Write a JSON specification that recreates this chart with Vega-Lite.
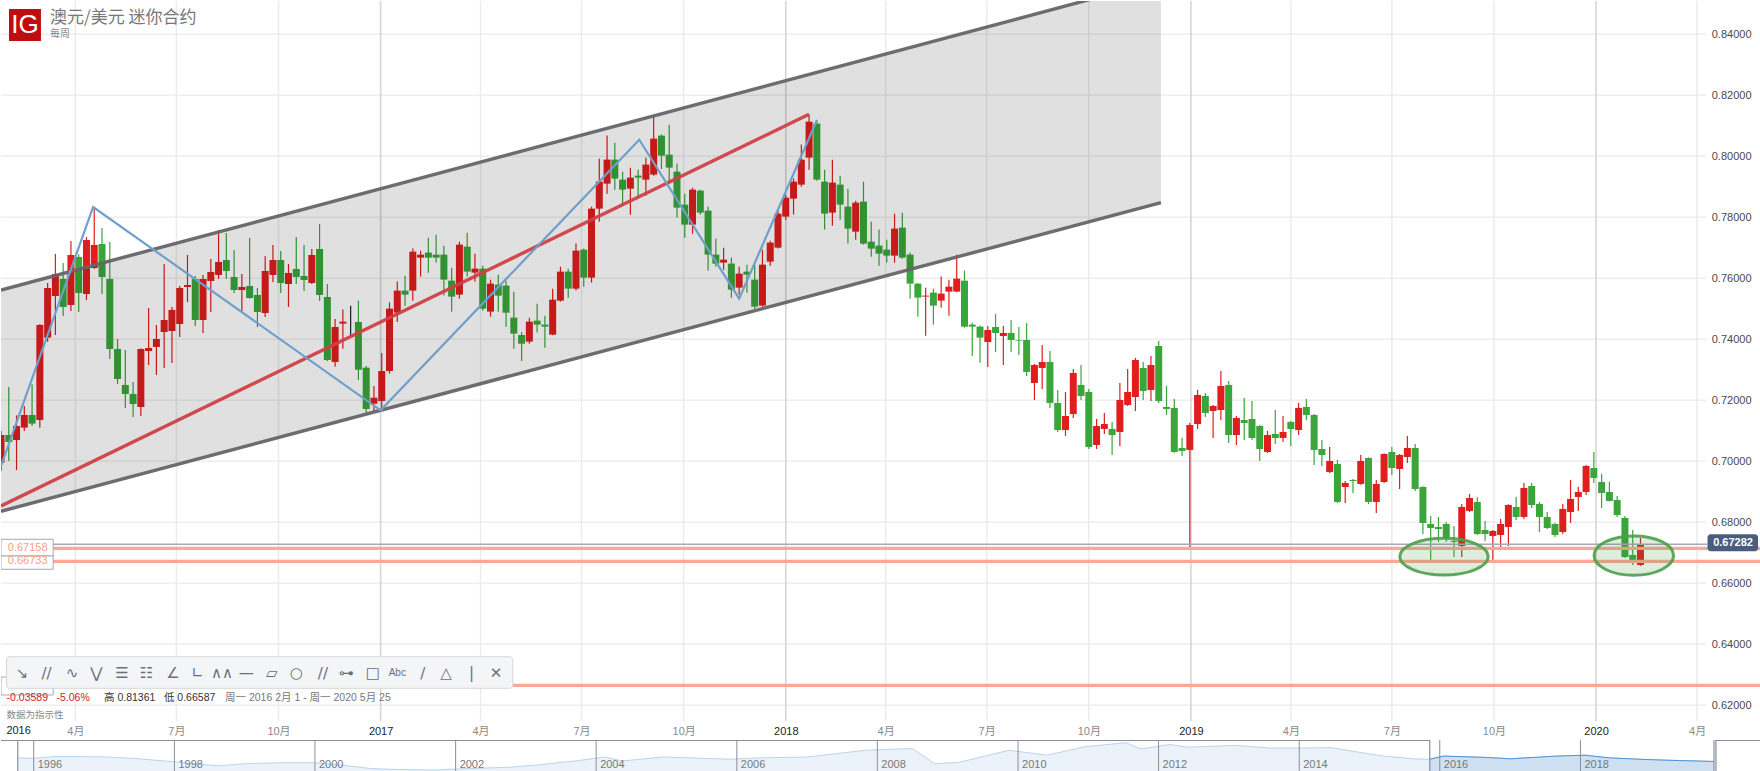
{"$schema":"https://vega.github.io/schema/vega-lite/v6.json","padding":0,"background":"#ffffff","spacing":0,"bounds":"flush",
"config":{"view":{"stroke":null},"concat":{"spacing":0}},
"datasets":{
"candles":[
{"d":"2016-01-25","o":0.69954,"h":0.7099,"l":0.6968,"c":0.70862},
{"d":"2016-02-01","o":0.70862,"h":0.72436,"l":0.7001,"c":0.70633},
{"d":"2016-02-08","o":0.70698,"h":0.71508,"l":0.69715,"c":0.71157},
{"d":"2016-02-15","o":0.71104,"h":0.71814,"l":0.70995,"c":0.71519},
{"d":"2016-02-22","o":0.71519,"h":0.72525,"l":0.71158,"c":0.71235},
{"d":"2016-02-29","o":0.71355,"h":0.745,"l":0.71104,"c":0.7447},
{"d":"2016-03-07","o":0.74055,"h":0.75847,"l":0.73923,"c":0.75683},
{"d":"2016-03-14","o":0.75421,"h":0.76798,"l":0.74142,"c":0.76142},
{"d":"2016-03-21","o":0.75978,"h":0.76503,"l":0.74765,"c":0.7506},
{"d":"2016-03-28","o":0.75126,"h":0.77224,"l":0.74929,"c":0.76765},
{"d":"2016-04-04","o":0.767,"h":0.76787,"l":0.74896,"c":0.75519},
{"d":"2016-04-11","o":0.75486,"h":0.77355,"l":0.7529,"c":0.77257},
{"d":"2016-04-18","o":0.76339,"h":0.78338,"l":0.76306,"c":0.77093},
{"d":"2016-04-25","o":0.77126,"h":0.7765,"l":0.75486,"c":0.76044},
{"d":"2016-05-02","o":0.75978,"h":0.77191,"l":0.73355,"c":0.73683},
{"d":"2016-05-09","o":0.73683,"h":0.74011,"l":0.72535,"c":0.72699},
{"d":"2016-05-16","o":0.72503,"h":0.7365,"l":0.71749,"c":0.72208},
{"d":"2016-05-23","o":0.72208,"h":0.72601,"l":0.71454,"c":0.7188},
{"d":"2016-05-30","o":0.71781,"h":0.737,"l":0.71486,"c":0.73683},
{"d":"2016-06-06","o":0.73617,"h":0.75027,"l":0.73158,"c":0.73716},
{"d":"2016-06-13","o":0.73749,"h":0.7447,"l":0.72831,"c":0.74011},
{"d":"2016-06-20","o":0.7424,"h":0.7647,"l":0.7306,"c":0.74634},
{"d":"2016-06-27","o":0.74273,"h":0.7506,"l":0.73224,"c":0.74962},
{"d":"2016-07-04","o":0.74503,"h":0.75749,"l":0.74076,"c":0.75683},
{"d":"2016-07-11","o":0.75716,"h":0.76765,"l":0.75224,"c":0.75781},
{"d":"2016-07-18","o":0.75978,"h":0.76077,"l":0.74437,"c":0.74634},
{"d":"2016-07-25","o":0.74634,"h":0.76109,"l":0.74208,"c":0.75978},
{"d":"2016-08-01","o":0.75913,"h":0.76634,"l":0.74896,"c":0.76208},
{"d":"2016-08-08","o":0.76109,"h":0.77585,"l":0.75978,"c":0.76536},
{"d":"2016-08-15","o":0.76601,"h":0.77486,"l":0.75978,"c":0.7624},
{"d":"2016-08-22","o":0.76044,"h":0.76929,"l":0.75519,"c":0.75617},
{"d":"2016-08-29","o":0.75617,"h":0.76142,"l":0.74929,"c":0.75716},
{"d":"2016-09-05","o":0.75749,"h":0.77322,"l":0.7533,"c":0.75355},
{"d":"2016-09-12","o":0.75454,"h":0.75683,"l":0.74404,"c":0.74896},
{"d":"2016-09-19","o":0.74863,"h":0.76732,"l":0.74732,"c":0.7624},
{"d":"2016-09-26","o":0.76109,"h":0.77093,"l":0.7588,"c":0.76601},
{"d":"2016-10-03","o":0.76601,"h":0.76896,"l":0.75519,"c":0.75847},
{"d":"2016-10-10","o":0.75814,"h":0.7647,"l":0.7506,"c":0.76175},
{"d":"2016-10-17","o":0.76306,"h":0.77355,"l":0.75814,"c":0.76044},
{"d":"2016-10-24","o":0.76077,"h":0.77093,"l":0.75585,"c":0.75945},
{"d":"2016-10-31","o":0.75847,"h":0.76962,"l":0.75814,"c":0.76765},
{"d":"2016-11-07","o":0.76962,"h":0.77781,"l":0.75257,"c":0.75454},
{"d":"2016-11-14","o":0.75388,"h":0.75814,"l":0.7329,"c":0.73322},
{"d":"2016-11-21","o":0.73256,"h":0.74667,"l":0.73102,"c":0.74403},
{"d":"2016-11-28","o":0.74514,"h":0.74973,"l":0.73694,"c":0.74579},
{"d":"2016-12-05","o":0.7447,"h":0.75104,"l":0.74108,"c":0.7447},
{"d":"2016-12-12","o":0.74567,"h":0.75268,"l":0.72666,"c":0.73003},
{"d":"2016-12-19","o":0.73069,"h":0.73125,"l":0.71593,"c":0.71715},
{"d":"2016-12-26","o":0.71889,"h":0.72469,"l":0.71626,"c":0.72085},
{"d":"2017-01-02","o":0.71977,"h":0.73551,"l":0.71672,"c":0.72961},
{"d":"2017-01-09","o":0.72961,"h":0.75213,"l":0.72872,"c":0.75005},
{"d":"2017-01-16","o":0.74874,"h":0.75891,"l":0.74579,"c":0.75596},
{"d":"2017-01-23","o":0.75596,"h":0.76087,"l":0.75104,"c":0.75464},
{"d":"2017-01-30","o":0.75596,"h":0.76973,"l":0.75268,"c":0.76874},
{"d":"2017-02-06","o":0.76678,"h":0.76907,"l":0.76055,"c":0.76776},
{"d":"2017-02-13","o":0.76842,"h":0.77333,"l":0.76186,"c":0.76678},
{"d":"2017-02-20","o":0.76776,"h":0.77432,"l":0.76514,"c":0.76678},
{"d":"2017-02-27","o":0.76776,"h":0.77071,"l":0.75432,"c":0.75956},
{"d":"2017-03-06","o":0.75923,"h":0.7635,"l":0.74907,"c":0.75399},
{"d":"2017-03-13","o":0.75464,"h":0.77202,"l":0.75333,"c":0.77104},
{"d":"2017-03-20","o":0.77038,"h":0.77497,"l":0.76055,"c":0.76219},
{"d":"2017-03-27","o":0.76186,"h":0.76809,"l":0.75891,"c":0.76317},
{"d":"2017-04-03","o":0.76317,"h":0.76415,"l":0.7494,"c":0.75005},
{"d":"2017-04-10","o":0.74907,"h":0.75956,"l":0.74743,"c":0.75825},
{"d":"2017-04-17","o":0.75792,"h":0.7612,"l":0.74907,"c":0.75432},
{"d":"2017-04-24","o":0.7576,"h":0.75923,"l":0.74415,"c":0.74874},
{"d":"2017-05-01","o":0.7471,"h":0.75563,"l":0.73694,"c":0.74186},
{"d":"2017-05-08","o":0.74141,"h":0.74239,"l":0.73289,"c":0.73856},
{"d":"2017-05-15","o":0.73923,"h":0.7471,"l":0.73858,"c":0.74579},
{"d":"2017-05-22","o":0.74612,"h":0.75169,"l":0.74219,"c":0.74481},
{"d":"2017-05-29","o":0.74481,"h":0.74776,"l":0.73727,"c":0.74415},
{"d":"2017-06-05","o":0.74153,"h":0.75661,"l":0.7413,"c":0.753},
{"d":"2017-06-12","o":0.75268,"h":0.76382,"l":0.75235,"c":0.76219},
{"d":"2017-06-19","o":0.76219,"h":0.76317,"l":0.75366,"c":0.75661},
{"d":"2017-06-26","o":0.75661,"h":0.77137,"l":0.75596,"c":0.76907},
{"d":"2017-07-03","o":0.7694,"h":0.76973,"l":0.75727,"c":0.76022},
{"d":"2017-07-10","o":0.76022,"h":0.7835,"l":0.75858,"c":0.78284},
{"d":"2017-07-17","o":0.78284,"h":0.79923,"l":0.77858,"c":0.79169},
{"d":"2017-07-24","o":0.79104,"h":0.80678,"l":0.78776,"c":0.79891},
{"d":"2017-07-31","o":0.79891,"h":0.80448,"l":0.78907,"c":0.79268},
{"d":"2017-08-07","o":0.79235,"h":0.79497,"l":0.78415,"c":0.78907},
{"d":"2017-08-14","o":0.7894,"h":0.79628,"l":0.78087,"c":0.79301},
{"d":"2017-08-21","o":0.79366,"h":0.79563,"l":0.78678,"c":0.79301},
{"d":"2017-08-28","o":0.79235,"h":0.79956,"l":0.7871,"c":0.79727},
{"d":"2017-09-04","o":0.79399,"h":0.813,"l":0.7936,"c":0.80579},
{"d":"2017-09-11","o":0.80678,"h":0.8072,"l":0.79584,"c":0.80022},
{"d":"2017-09-18","o":0.80055,"h":0.81038,"l":0.79093,"c":0.79628},
{"d":"2017-09-25","o":0.79497,"h":0.7976,"l":0.77989,"c":0.78317},
{"d":"2017-10-02","o":0.78415,"h":0.78776,"l":0.77333,"c":0.7776},
{"d":"2017-10-09","o":0.7776,"h":0.78973,"l":0.77464,"c":0.78907},
{"d":"2017-10-16","o":0.78874,"h":0.78907,"l":0.78087,"c":0.78153},
{"d":"2017-10-23","o":0.78219,"h":0.7835,"l":0.76251,"c":0.76776},
{"d":"2017-10-30","o":0.76776,"h":0.773,"l":0.76382,"c":0.76481},
{"d":"2017-11-06","o":0.76514,"h":0.77005,"l":0.76284,"c":0.76612},
{"d":"2017-11-13","o":0.76481,"h":0.76678,"l":0.75366,"c":0.75628},
{"d":"2017-11-20","o":0.75694,"h":0.76382,"l":0.75464,"c":0.76153},
{"d":"2017-11-27","o":0.76219,"h":0.76448,"l":0.7553,"c":0.7612},
{"d":"2017-12-04","o":0.75956,"h":0.76514,"l":0.75005,"c":0.75071},
{"d":"2017-12-11","o":0.75104,"h":0.7694,"l":0.75071,"c":0.76448},
{"d":"2017-12-18","o":0.76546,"h":0.77235,"l":0.76415,"c":0.77169},
{"d":"2017-12-25","o":0.77005,"h":0.78219,"l":0.7698,"c":0.7812},
{"d":"2018-01-01","o":0.78022,"h":0.78743,"l":0.77923,"c":0.78645},
{"d":"2018-01-08","o":0.78612,"h":0.79268,"l":0.78087,"c":0.79169},
{"d":"2018-01-15","o":0.79071,"h":0.80383,"l":0.79005,"c":0.79891},
{"d":"2018-01-22","o":0.79956,"h":0.8136,"l":0.79563,"c":0.81137},
{"d":"2018-01-29","o":0.81071,"h":0.81202,"l":0.79202,"c":0.79235},
{"d":"2018-02-05","o":0.79169,"h":0.79563,"l":0.77596,"c":0.7812},
{"d":"2018-02-12","o":0.78153,"h":0.79891,"l":0.77727,"c":0.79137},
{"d":"2018-02-19","o":0.79071,"h":0.79366,"l":0.77923,"c":0.78415},
{"d":"2018-02-26","o":0.7835,"h":0.7894,"l":0.77137,"c":0.77628},
{"d":"2018-03-05","o":0.7753,"h":0.78546,"l":0.77268,"c":0.78481},
{"d":"2018-03-12","o":0.78514,"h":0.79169,"l":0.77104,"c":0.77137},
{"d":"2018-03-19","o":0.77202,"h":0.77858,"l":0.7671,"c":0.76973},
{"d":"2018-03-26","o":0.77071,"h":0.77596,"l":0.76415,"c":0.76809},
{"d":"2018-04-02","o":0.7694,"h":0.77268,"l":0.76514,"c":0.76743},
{"d":"2018-04-09","o":0.76743,"h":0.7812,"l":0.76514,"c":0.77628},
{"d":"2018-04-16","o":0.77661,"h":0.78153,"l":0.76645,"c":0.76678},
{"d":"2018-04-23","o":0.76776,"h":0.76842,"l":0.75333,"c":0.75825},
{"d":"2018-04-30","o":0.75825,"h":0.7585,"l":0.74743,"c":0.75366},
{"d":"2018-05-07","o":0.75399,"h":0.75694,"l":0.7412,"c":0.75432},
{"d":"2018-05-14","o":0.7553,"h":0.75661,"l":0.74481,"c":0.75104},
{"d":"2018-05-21","o":0.75268,"h":0.76055,"l":0.75038,"c":0.75497},
{"d":"2018-05-28","o":0.75563,"h":0.75956,"l":0.74776,"c":0.75727},
{"d":"2018-06-04","o":0.75563,"h":0.76776,"l":0.7554,"c":0.75989},
{"d":"2018-06-11","o":0.75923,"h":0.76251,"l":0.74383,"c":0.74415},
{"d":"2018-06-18","o":0.74481,"h":0.74546,"l":0.73452,"c":0.74415},
{"d":"2018-06-25","o":0.74415,"h":0.7445,"l":0.73233,"c":0.74055},
{"d":"2018-07-02","o":0.73911,"h":0.74436,"l":0.73092,"c":0.74305},
{"d":"2018-07-09","o":0.74403,"h":0.7483,"l":0.73584,"c":0.74207},
{"d":"2018-07-16","o":0.74108,"h":0.74436,"l":0.73157,"c":0.74207},
{"d":"2018-07-23","o":0.74207,"h":0.74633,"l":0.73585,"c":0.73978},
{"d":"2018-07-30","o":0.73967,"h":0.74403,"l":0.73486,"c":0.73945},
{"d":"2018-08-06","o":0.73978,"h":0.74534,"l":0.72798,"c":0.72929},
{"d":"2018-08-13","o":0.72568,"h":0.73191,"l":0.72011,"c":0.73158},
{"d":"2018-08-20","o":0.7306,"h":0.73814,"l":0.72372,"c":0.73257},
{"d":"2018-08-27","o":0.73257,"h":0.73617,"l":0.71749,"c":0.71913},
{"d":"2018-09-03","o":0.71913,"h":0.72339,"l":0.70962,"c":0.71027},
{"d":"2018-09-10","o":0.71027,"h":0.72273,"l":0.70831,"c":0.71486},
{"d":"2018-09-17","o":0.71552,"h":0.73027,"l":0.71421,"c":0.72896},
{"d":"2018-09-24","o":0.72503,"h":0.73158,"l":0.72011,"c":0.72142},
{"d":"2018-10-01","o":0.72273,"h":0.72372,"l":0.70404,"c":0.7047},
{"d":"2018-10-08","o":0.70535,"h":0.71388,"l":0.70404,"c":0.71158},
{"d":"2018-10-15","o":0.7106,"h":0.71585,"l":0.70896,"c":0.71224},
{"d":"2018-10-22","o":0.7106,"h":0.7129,"l":0.70208,"c":0.70863},
{"d":"2018-10-29","o":0.70962,"h":0.72568,"l":0.70503,"c":0.72011},
{"d":"2018-11-05","o":0.71847,"h":0.73027,"l":0.71814,"c":0.72273},
{"d":"2018-11-12","o":0.72109,"h":0.73388,"l":0.7165,"c":0.73322},
{"d":"2018-11-19","o":0.7306,"h":0.73257,"l":0.72011,"c":0.72306},
{"d":"2018-11-26","o":0.72339,"h":0.73454,"l":0.71978,"c":0.73158},
{"d":"2018-12-03","o":0.73781,"h":0.73945,"l":0.71913,"c":0.71978},
{"d":"2018-12-10","o":0.71781,"h":0.7247,"l":0.71519,"c":0.71716},
{"d":"2018-12-17","o":0.71749,"h":0.72044,"l":0.7028,"c":0.70306},
{"d":"2018-12-24","o":0.70437,"h":0.70765,"l":0.70175,"c":0.70339},
{"d":"2018-12-31","o":0.70372,"h":0.71257,"l":0.67191,"c":0.71191},
{"d":"2019-01-07","o":0.71224,"h":0.72339,"l":0.7106,"c":0.72175},
{"d":"2019-01-14","o":0.72142,"h":0.7224,"l":0.71454,"c":0.71585},
{"d":"2019-01-21","o":0.7165,"h":0.71847,"l":0.70765,"c":0.71814},
{"d":"2019-01-28","o":0.71683,"h":0.72962,"l":0.71355,"c":0.7247},
{"d":"2019-02-04","o":0.72503,"h":0.72634,"l":0.70601,"c":0.70863},
{"d":"2019-02-11","o":0.70863,"h":0.71486,"l":0.70535,"c":0.71421},
{"d":"2019-02-18","o":0.71355,"h":0.72077,"l":0.70699,"c":0.71257},
{"d":"2019-02-25","o":0.71388,"h":0.71978,"l":0.70699,"c":0.70765},
{"d":"2019-03-04","o":0.71158,"h":0.71191,"l":0.70011,"c":0.70404},
{"d":"2019-03-11","o":0.70306,"h":0.70995,"l":0.70273,"c":0.70863},
{"d":"2019-03-18","o":0.70896,"h":0.71683,"l":0.70568,"c":0.70765},
{"d":"2019-03-25","o":0.70765,"h":0.71486,"l":0.70634,"c":0.70962},
{"d":"2019-04-01","o":0.7129,"h":0.71322,"l":0.70503,"c":0.7106},
{"d":"2019-04-08","o":0.71027,"h":0.71913,"l":0.70863,"c":0.71749},
{"d":"2019-04-15","o":0.71781,"h":0.72044,"l":0.71355,"c":0.71519},
{"d":"2019-04-22","o":0.71519,"h":0.71552,"l":0.6988,"c":0.70372},
{"d":"2019-04-29","o":0.70404,"h":0.70699,"l":0.69847,"c":0.70208},
{"d":"2019-05-06","o":0.6965,"h":0.7047,"l":0.69617,"c":0.70011},
{"d":"2019-05-13","o":0.69913,"h":0.70044,"l":0.68634,"c":0.68667},
{"d":"2019-05-20","o":0.69158,"h":0.69355,"l":0.68634,"c":0.6929},
{"d":"2019-05-27","o":0.69388,"h":0.69421,"l":0.68962,"c":0.69355},
{"d":"2019-06-03","o":0.69257,"h":0.70208,"l":0.6923,"c":0.70011},
{"d":"2019-06-10","o":0.70109,"h":0.7013,"l":0.68601,"c":0.68667},
{"d":"2019-06-17","o":0.68667,"h":0.69388,"l":0.68306,"c":0.69257},
{"d":"2019-06-24","o":0.69322,"h":0.7026,"l":0.6929,"c":0.7024},
{"d":"2019-07-01","o":0.70306,"h":0.7047,"l":0.69552,"c":0.69781},
{"d":"2019-07-08","o":0.69749,"h":0.7024,"l":0.69093,"c":0.70208},
{"d":"2019-07-15","o":0.70142,"h":0.70831,"l":0.69945,"c":0.70437},
{"d":"2019-07-22","o":0.70437,"h":0.70568,"l":0.69027,"c":0.69093},
{"d":"2019-07-29","o":0.69158,"h":0.6918,"l":0.67617,"c":0.67978},
{"d":"2019-08-05","o":0.67945,"h":0.68208,"l":0.66765,"c":0.67814},
{"d":"2019-08-12","o":0.67847,"h":0.68175,"l":0.67355,"c":0.67781},
{"d":"2019-08-19","o":0.67945,"h":0.68011,"l":0.67355,"c":0.67486},
{"d":"2019-08-26","o":0.67388,"h":0.6788,"l":0.66863,"c":0.67355},
{"d":"2019-09-02","o":0.67224,"h":0.68601,"l":0.66863,"c":0.68503},
{"d":"2019-09-09","o":0.68372,"h":0.68929,"l":0.68339,"c":0.68798},
{"d":"2019-09-16","o":0.68667,"h":0.68831,"l":0.67585,"c":0.67617},
{"d":"2019-09-23","o":0.67749,"h":0.68044,"l":0.67388,"c":0.67617},
{"d":"2019-09-30","o":0.67552,"h":0.67749,"l":0.66699,"c":0.67716},
{"d":"2019-10-07","o":0.67585,"h":0.68109,"l":0.67093,"c":0.67945},
{"d":"2019-10-14","o":0.67847,"h":0.6859,"l":0.67224,"c":0.68568},
{"d":"2019-10-21","o":0.68503,"h":0.68831,"l":0.68077,"c":0.68175},
{"d":"2019-10-28","o":0.68175,"h":0.6929,"l":0.68109,"c":0.69126},
{"d":"2019-11-04","o":0.69191,"h":0.6929,"l":0.6847,"c":0.68568},
{"d":"2019-11-11","o":0.68601,"h":0.68667,"l":0.67683,"c":0.68175},
{"d":"2019-11-18","o":0.68175,"h":0.68339,"l":0.67781,"c":0.67814},
{"d":"2019-11-25","o":0.67945,"h":0.67978,"l":0.67519,"c":0.67585},
{"d":"2019-12-02","o":0.67683,"h":0.68601,"l":0.67617,"c":0.68437},
{"d":"2019-12-09","o":0.68339,"h":0.69388,"l":0.67978,"c":0.68765},
{"d":"2019-12-16","o":0.68831,"h":0.69158,"l":0.68372,"c":0.68995},
{"d":"2019-12-23","o":0.68995,"h":0.6988,"l":0.68896,"c":0.69847},
{"d":"2019-12-30","o":0.69781,"h":0.70306,"l":0.6929,"c":0.69454},
{"d":"2020-01-06","o":0.69322,"h":0.69585,"l":0.6847,"c":0.68962},
{"d":"2020-01-13","o":0.68995,"h":0.69322,"l":0.6868,"c":0.687},
{"d":"2020-01-20","o":0.68732,"h":0.68863,"l":0.68175,"c":0.6824},
{"d":"2020-01-27","o":0.68142,"h":0.68208,"l":0.66831,"c":0.66863},
{"d":"2020-02-03","o":0.66929,"h":0.67749,"l":0.66601,"c":0.66765},
{"d":"2020-02-10","o":0.66601,"h":0.67486,"l":0.66568,"c":0.67282}
],
"channel":[{"d":"2016-01-25","top":0.75616,"bottom":0.68361},{"d":"2018-12-05","top":0.85764,"bottom":0.78479}],
"lines":[
{"s":"top","d":"2016-01-25","v":0.75616},{"s":"top","d":"2018-12-05","v":0.85764},
{"s":"bottom","d":"2016-01-25","v":0.68361},{"s":"bottom","d":"2018-12-05","v":0.78479}
],
"trend":[{"d":"2016-01-25","v":0.68534},{"d":"2018-01-22","v":0.81377}],
"zigzag":[{"d":"2016-01-25","v":0.69846},{"d":"2016-04-17","v":0.78338},{"d":"2017-01-01","v":0.71672},{"d":"2017-08-22","v":0.80544},{"d":"2017-11-20","v":0.75331},{"d":"2018-01-29","v":0.8118}],
"levels":[{"v":0.67148},{"v":0.6672},{"v":0.62656}],
"gridH":[{"v":0.62},{"v":0.64},{"v":0.66},{"v":0.68},{"v":0.7},{"v":0.72},{"v":0.74},{"v":0.76},{"v":0.78},{"v":0.8},{"v":0.82},{"v":0.84}],
"gridMonths":[{"d":"2016-04-01"},{"d":"2016-07-01"},{"d":"2016-10-01"},{"d":"2017-04-01"},{"d":"2017-07-01"},{"d":"2017-10-01"},{"d":"2018-04-01"},{"d":"2018-07-01"},{"d":"2018-10-01"},{"d":"2019-04-01"},{"d":"2019-07-01"},{"d":"2019-10-01"},{"d":"2020-04-01"}],
"gridYears":[{"d":"2017-01-01"},{"d":"2018-01-01"},{"d":"2019-01-01"},{"d":"2020-01-01"}],
"boxes":[{"a":"2016-01-25","b":"2016-03-12","lo":0.66895,"hi":0.67443},{"a":"2016-01-25","b":"2016-03-12","lo":0.66459,"hi":0.66895},{"a":"2016-01-25","b":"2016-03-12","lo":0.62338,"hi":0.62928}],
"tools":[
{"d":"2016-02-13","v":0.63069,"t":"↘"},{"d":"2016-03-06","v":0.63069,"t":"∕∕"},{"d":"2016-03-29","v":0.63069,"t":"∿"},{"d":"2016-04-20","v":0.63069,"t":"⋁"},{"d":"2016-05-13","v":0.63069,"t":"☰"},{"d":"2016-06-04","v":0.63069,"t":"☷"},{"d":"2016-06-28","v":0.63069,"t":"∠"},{"d":"2016-07-20","v":0.63069,"t":"∟"},{"d":"2016-08-11","v":0.63069,"t":"∧∧"},{"d":"2016-09-02","v":0.63069,"t":"—"},{"d":"2016-09-25","v":0.63069,"t":"▱"},{"d":"2016-10-17","v":0.63069,"t":"○"},{"d":"2016-11-10","v":0.63069,"t":"∕∕"},{"d":"2016-12-01","v":0.63069,"t":"⊶"},{"d":"2016-12-25","v":0.63069,"t":"□"},{"d":"2017-02-08","v":0.63069,"t":"∕"},{"d":"2017-03-01","v":0.63069,"t":"△"},{"d":"2017-03-24","v":0.63069,"t":"|"},{"d":"2017-04-15","v":0.63069,"t":"✕"}
],
"nav":[
{"d":"1995-10-10","p":0.76},{"d":"1996-01-01","p":0.75},{"d":"1996-04-15","p":0.79},{"d":"1996-09-01","p":0.79},{"d":"1997-01-15","p":0.78},{"d":"1997-07-01","p":0.74},{"d":"1998-01-01","p":0.67},{"d":"1998-08-20","p":0.58},{"d":"1999-01-01","p":0.63},{"d":"1999-07-01","p":0.65},{"d":"2000-01-01","p":0.65},{"d":"2000-06-01","p":0.59},{"d":"2000-10-20","p":0.52},{"d":"2001-03-01","p":0.5},{"d":"2001-09-20","p":0.49},{"d":"2002-01-01","p":0.51},{"d":"2002-10-01","p":0.55},{"d":"2003-03-01","p":0.6},{"d":"2003-10-01","p":0.7},{"d":"2004-02-15","p":0.78},{"d":"2004-05-15","p":0.69},{"d":"2004-12-15","p":0.78},{"d":"2005-12-01","p":0.73},{"d":"2006-05-01","p":0.76},{"d":"2007-01-01","p":0.78},{"d":"2007-11-01","p":0.93},{"d":"2008-07-01","p":0.97},{"d":"2008-10-25","p":0.63},{"d":"2009-03-01","p":0.66},{"d":"2009-11-15","p":0.93},{"d":"2010-06-01","p":0.82},{"d":"2010-12-15","p":1.01},{"d":"2011-07-15","p":1.1},{"d":"2011-10-01","p":0.96},{"d":"2012-03-01","p":1.06},{"d":"2012-06-01","p":1.0},{"d":"2013-02-01","p":1.04},{"d":"2013-08-01","p":0.98},{"d":"2014-01-01","p":0.98},{"d":"2014-06-15","p":0.99},{"d":"2014-12-15","p":0.86},{"d":"2015-03-15","p":0.8},{"d":"2015-08-15","p":0.74},{"d":"2015-11-10","p":0.73},{"d":"2016-01-20","p":0.8},{"d":"2016-09-01","p":0.77},{"d":"2017-01-01","p":0.74},{"d":"2017-09-01","p":0.8},{"d":"2018-01-25","p":0.82},{"d":"2018-06-01","p":0.76},{"d":"2018-12-31","p":0.72},{"d":"2019-06-01","p":0.7},{"d":"2019-11-26","p":0.68}
],
"navYears":[{"d":"1996-01-01","t":"1996"},{"d":"1998-01-01","t":"1998"},{"d":"2000-01-01","t":"2000"},{"d":"2002-01-01","t":"2002"},{"d":"2004-01-01","t":"2004"},{"d":"2006-01-01","t":"2006"},{"d":"2008-01-01","t":"2008"},{"d":"2010-01-01","t":"2010"},{"d":"2012-01-01","t":"2012"},{"d":"2014-01-01","t":"2014"},{"d":"2016-01-01","t":"2016"},{"d":"2018-01-01","t":"2018"}],
"navEdges":[{"d":"1995-10-10"},{"d":"2015-11-10"},{"d":"2019-11-26"},{"d":"2019-12-06"}],
"navTop":[{"a":"1995-07-15","b":"2015-11-10"},{"a":"2019-12-06","b":"2020-07-27"}]
},
"vconcat":[
{"width":1760,"height":739,"layer":[
{"data":{"name":"gridH"},"transform":[{"filter":"datum.v>0"}],"mark":{"type":"rule","color":"#eeeeee","strokeWidth":1.5},
 "encoding":{"y":{"field":"v","type":"quantitative"},"x":{"datum":{"year":2016,"month":1,"date":25},"type":"temporal"},"x2":{"datum":{"year":2020,"month":4,"date":9}}}},
{"data":{"name":"gridMonths"},"mark":{"type":"rule","color":"#ebebeb","strokeWidth":1.5},
 "encoding":{"x":{"field":"d","type":"temporal"},"y":{"datum":0.85092},"y2":{"datum":0.61485}}},
{"data":{"name":"gridYears"},"mark":{"type":"rule","color":"#d3d3d8","strokeWidth":1.5},
 "encoding":{"x":{"field":"d","type":"temporal"},"y":{"datum":0.85092},"y2":{"datum":0.61485}}},
{"data":{"name":"candles"},"mark":{"type":"rule","strokeWidth":1.2,"clip":true},
 "encoding":{
  "x":{"field":"d","type":"temporal","scale":{"padding":0,"nice":false,"domain":[{"year":2016,"month":1,"date":25},{"year":2020,"month":5,"date":28,"hours":14}]},
   "axis":{"orient":"bottom","offset":-17,"title":null,"domain":false,"ticks":false,"grid":false,
    "values":[{"year":2016,"month":4,"date":1},{"year":2016,"month":7,"date":1},{"year":2016,"month":10,"date":1},{"year":2017,"month":1,"date":1},{"year":2017,"month":4,"date":1},{"year":2017,"month":7,"date":1},{"year":2017,"month":10,"date":1},{"year":2018,"month":1,"date":1},{"year":2018,"month":4,"date":1},{"year":2018,"month":7,"date":1},{"year":2018,"month":10,"date":1},{"year":2019,"month":1,"date":1},{"year":2019,"month":4,"date":1},{"year":2019,"month":7,"date":1},{"year":2019,"month":10,"date":1},{"year":2020,"month":1,"date":1},{"year":2020,"month":4,"date":1}],
    "labelExpr":"month(datum.value)==0 ? timeFormat(datum.value,'%Y') : (month(datum.value)+1)+'月'",
    "labelFont":"Liberation Sans, Noto Sans CJK SC","labelFontSize":11,"labelPadding":2,"labelOverlap":false,"labelFlush":false,"zindex":1,
    "labelColor":{"condition":{"test":"month(datum.value)==0","value":"#222222"},"value":"#8a8a8a"}}},
  "y":{"field":"l","type":"quantitative","scale":{"domain":[0.60862,0.85092],"nice":false,"zero":false},
   "axis":{"orient":"right","offset":-10,"title":null,"domain":false,"ticks":false,"grid":false,
    "values":[0.62,0.64,0.66,0.68,0.7,0.72,0.74,0.76,0.78,0.8,0.82,0.84],"format":".5f","labelAlign":"right","labelPadding":0,
    "labelFont":"Liberation Sans","labelFontSize":11,"labelColor":"#4a4a4a","zindex":1}},
  "y2":{"field":"h"},
  "color":{"condition":[{"test":"datum.o==datum.c","value":"#222222"},{"test":"datum.c>datum.o","value":"#e01e1e"}],"value":"#3aa53a"}}},
{"data":{"name":"candles"},"mark":{"type":"bar","size":7,"clip":true},
 "encoding":{
  "x":{"field":"d","type":"temporal"},
  "y":{"field":"o","type":"quantitative"},
  "y2":{"field":"c"},
  "color":{"condition":[{"test":"datum.o==datum.c","value":"#222222"},{"test":"datum.c>datum.o","value":"#e01e1e"}],"value":"#3aa53a"}}},
{"data":{"name":"channel"},"mark":{"type":"area","color":"#000000","opacity":0.122,"clip":true},
 "encoding":{"x":{"field":"d","type":"temporal"},"y":{"field":"top","type":"quantitative"},"y2":{"field":"bottom"}}},
{"data":{"name":"lines"},"mark":{"type":"line","color":"#666469","strokeWidth":3.4,"clip":true,"opacity":0.95},
 "encoding":{"x":{"field":"d","type":"temporal"},"y":{"field":"v","type":"quantitative"},"detail":{"field":"s"}}},
{"data":{"name":"trend"},"mark":{"type":"line","color":"#cf4044","strokeWidth":3.4,"clip":true,"opacity":0.95},
 "encoding":{"x":{"field":"d","type":"temporal"},"y":{"field":"v","type":"quantitative"}}},
{"data":{"name":"zigzag"},"mark":{"type":"line","color":"#6f9fcb","strokeWidth":2.2,"clip":true},
 "encoding":{"x":{"field":"d","type":"temporal"},"y":{"field":"v","type":"quantitative"}}},
{"data":{"values":[{"a":"2016-01-25","b":"2020-04-10","v":0.67279}]},"mark":{"type":"rule","color":"#a7a9b8","strokeWidth":1.5,"clip":true},
 "encoding":{"x":{"field":"a","type":"temporal"},"x2":{"field":"b"},"y":{"field":"v","type":"quantitative"}}},
{"data":{"name":"levels"},"mark":{"type":"rule","color":"#f9a98f","strokeWidth":3.2,"clip":true},
 "encoding":{"y":{"field":"v","type":"quantitative"}}},
{"data":{"values":[{"d":"2019-08-17","v":0.66875}]},"mark":{"type":"point","shape":"M-1,0A1,0.415,0,1,1,1,0A1,0.415,0,1,1,-1,0Z","size":7815,"fill":"#3c963c","fillOpacity":0.17,"stroke":"#4c9f4c","strokeOpacity":0.9,"strokeWidth":3,"opacity":1},
 "encoding":{"x":{"field":"d","type":"temporal"},"y":{"field":"v","type":"quantitative"}}},
{"data":{"values":[{"d":"2020-02-04","v":0.66908}]},"mark":{"type":"point","shape":"M-1,0A1,0.494,0,1,1,1,0A1,0.494,0,1,1,-1,0Z","size":6320,"fill":"#3c963c","fillOpacity":0.17,"stroke":"#4c9f4c","strokeOpacity":0.9,"strokeWidth":3,"opacity":1},
 "encoding":{"x":{"field":"d","type":"temporal"},"y":{"field":"v","type":"quantitative"}}},
{"data":{"name":"boxes"},"mark":{"type":"rect","fill":"#ffffff","stroke":"#a8a8b4","strokeWidth":1,"clip":true},
 "encoding":{"x":{"field":"a","type":"temporal"},"x2":{"field":"b"},"y":{"field":"lo","type":"quantitative"},"y2":{"field":"hi"}}},
{"data":{"values":[{"d":"2016-02-18","v":0.67148,"t":"0.67158"},{"d":"2016-02-18","v":0.6672,"t":"0.66733"}]},"mark":{"type":"text","font":"Liberation Sans","fontSize":11,"color":"#f9a07f","align":"center","baseline":"middle"},
 "encoding":{"x":{"field":"d","type":"temporal"},"y":{"field":"v","type":"quantitative"},"text":{"field":"t"}}},
{"data":{"values":[{"a":"2016-01-30","b":"2017-04-30","lo":0.62557,"hi":0.63593}]},"mark":{"type":"rect","fill":"#f4f5f7","stroke":"#d6d6da","strokeWidth":1,"cornerRadius":3},
 "encoding":{"x":{"field":"a","type":"temporal"},"x2":{"field":"b"},"y":{"field":"lo","type":"quantitative"},"y2":{"field":"hi"}}},
{"data":{"name":"tools"},"mark":{"type":"text","font":"DejaVu Sans","fontSize":15,"color":"#6b6e7a","align":"center","baseline":"middle"},
 "encoding":{"x":{"field":"d","type":"temporal"},"y":{"field":"v","type":"quantitative"},"text":{"field":"t"}}},
{"data":{"values":[{"d":"2017-01-16","v":0.63069,"t":"Abc"}]},"mark":{"type":"text","font":"Liberation Sans","fontSize":10,"color":"#6b6e7a","align":"center","baseline":"middle"},
 "encoding":{"x":{"field":"d","type":"temporal"},"y":{"field":"v","type":"quantitative"},"text":{"field":"t"}}},
{"data":{"values":[{"d":"2016-01-30","v":0.62249,"t":"-0.03589"},{"d":"2016-03-15","v":0.62249,"t":"-5.06%"}]},"mark":{"type":"text","font":"Liberation Sans","fontSize":10.5,"color":"#d0212a","align":"left","baseline":"middle"},
 "encoding":{"x":{"field":"d","type":"temporal"},"y":{"field":"v","type":"quantitative"},"text":{"field":"t"}}},
{"data":{"values":[{"d":"2016-04-26T19:00:00Z","v":0.62249,"t":"高 0.81361"},{"d":"2016-06-19T19:00:00Z","v":0.62249,"t":"低 0.66587"}]},"mark":{"type":"text","font":"Liberation Sans, Noto Sans CJK SC","fontSize":10.5,"color":"#333333","align":"left","baseline":"middle"},
 "encoding":{"x":{"field":"d","type":"temporal"},"y":{"field":"v","type":"quantitative"},"text":{"field":"t"}}},
{"data":{"values":[{"d":"2016-08-13T19:00:00Z","v":0.62249,"t":"周一 2016 2月 1 - 周一 2020 5月 25"}]},"mark":{"type":"text","font":"Liberation Sans, Noto Sans CJK SC","fontSize":10.5,"color":"#777777","align":"left","baseline":"middle"},
 "encoding":{"x":{"field":"d","type":"temporal"},"y":{"field":"v","type":"quantitative"},"text":{"field":"t"}}},
{"data":{"values":[{"d":"2016-01-30","v":0.61682,"t":"数据为指示性"}]},"mark":{"type":"text","font":"Noto Sans CJK SC","fontSize":9.5,"color":"#888888","align":"left","baseline":"middle"},
 "encoding":{"x":{"field":"d","type":"temporal"},"y":{"field":"v","type":"quantitative"},"text":{"field":"t"}}},
{"data":{"values":[{"d":"2016-02-09T21:00:00Z","v":0.61157,"t":"2016"}]},"mark":{"type":"text","font":"Liberation Sans","fontSize":11,"color":"#222222","align":"center","baseline":"middle"},
 "encoding":{"x":{"field":"d","type":"temporal"},"y":{"field":"v","type":"quantitative"},"text":{"field":"t"}}},
{"data":{"values":[{"a":"2016-02-01T05:00:00Z","b":"2016-03-01","lo":0.8378,"hi":0.8483}]},"mark":{"type":"rect","color":"#c00d12"},
 "encoding":{"x":{"field":"a","type":"temporal"},"x2":{"field":"b"},"y":{"field":"lo","type":"quantitative"},"y2":{"field":"hi"}}},
{"data":{"values":[{"d":"2016-02-15T15:00:00Z","v":0.84289,"t":"IG"}]},"mark":{"type":"text","font":"Liberation Sans","fontSize":26,"color":"#ffffff","align":"center","baseline":"middle"},
 "encoding":{"x":{"field":"d","type":"temporal"},"y":{"field":"v","type":"quantitative"},"text":{"field":"t"}}},
{"data":{"values":[{"d":"2016-03-09T03:00:00Z","v":0.84534,"t":"澳元/美元 迷你合约"}]},"mark":{"type":"text","font":"Noto Sans CJK SC","fontSize":17,"color":"#777777","align":"left","baseline":"middle"},
 "encoding":{"x":{"field":"d","type":"temporal"},"y":{"field":"v","type":"quantitative"},"text":{"field":"t"}}},
{"data":{"values":[{"d":"2016-03-09T03:00:00Z","v":0.84,"t":"每周"}]},"mark":{"type":"text","font":"Noto Sans CJK SC","fontSize":10,"color":"#8a8a93","align":"left","baseline":"middle"},
 "encoding":{"x":{"field":"d","type":"temporal"},"y":{"field":"v","type":"quantitative"},"text":{"field":"t"}}},
{"data":{"values":[{"a":"2020-04-10T10:00:00Z","b":"2020-05-25T22:00:00Z","lo":0.67051,"hi":0.67607}]},"mark":{"type":"rect","color":"#4b5d7e","cornerRadius":3},
 "encoding":{"x":{"field":"a","type":"temporal"},"x2":{"field":"b"},"y":{"field":"lo","type":"quantitative"},"y2":{"field":"hi"}}},
{"data":{"values":[{"d":"2020-05-03T10:00:00Z","v":0.67329,"t":"0.67282"}]},"mark":{"type":"text","font":"Liberation Sans","fontSize":11,"fontWeight":"bold","color":"#ffffff","align":"center","baseline":"middle"},
 "encoding":{"x":{"field":"d","type":"temporal"},"y":{"field":"v","type":"quantitative"},"text":{"field":"t"}}}
]},
{"width":1760,"height":32,"layer":[
{"data":{"name":"nav"},"mark":{"type":"area","color":"#e4edf7","clip":true,"line":{"color":"#b9d4ef","strokeWidth":1}},
 "encoding":{"x":{"field":"d","type":"temporal","axis":null,"scale":{"nice":false,"domain":[{"year":1995,"month":7,"date":15},{"year":2020,"month":7,"date":27}]}},
  "y":{"field":"p","type":"quantitative","axis":null,"scale":{"domain":[0.4437,1.161],"zero":false,"nice":false}},"y2":{"datum":0.4437}}},
{"data":{"name":"nav"},"transform":[{"filter":{"field":"d","range":[{"year":2015,"month":11,"date":10},{"year":2019,"month":11,"date":26}]}}],"mark":{"type":"area","color":"#c2d8ef","clip":true,"line":{"color":"#4f94d4","strokeWidth":1}},
 "encoding":{"x":{"field":"d","type":"temporal","axis":null},"y":{"field":"p","type":"quantitative","axis":null},"y2":{"datum":0.4437}}},
{"data":{"name":"navYears"},"mark":{"type":"rule","color":"#8d8d9d","strokeWidth":1,"clip":true},
 "encoding":{"x":{"field":"d","type":"temporal","axis":null},"y":{"datum":1.161},"y2":{"datum":0.4437}}},
{"data":{"name":"navEdges"},"mark":{"type":"rule","color":"#8d8d9d","strokeWidth":1.2,"clip":true},
 "encoding":{"x":{"field":"d","type":"temporal","axis":null},"y":{"datum":1.161},"y2":{"datum":0.4437}}},
{"data":{"name":"navTop"},"mark":{"type":"rule","color":"#8d8d9d","strokeWidth":1.2},
 "encoding":{"x":{"field":"a","type":"temporal","axis":null},"x2":{"field":"b"},"y":{"datum":1.15}}},
{"data":{"name":"navYears"},"mark":{"type":"text","font":"Liberation Sans","fontSize":11,"color":"#777777","align":"left","baseline":"middle","dx":4},
 "encoding":{"x":{"field":"d","type":"temporal","axis":null},"y":{"datum":0.6},"text":{"field":"t"}}}
]}
]}
